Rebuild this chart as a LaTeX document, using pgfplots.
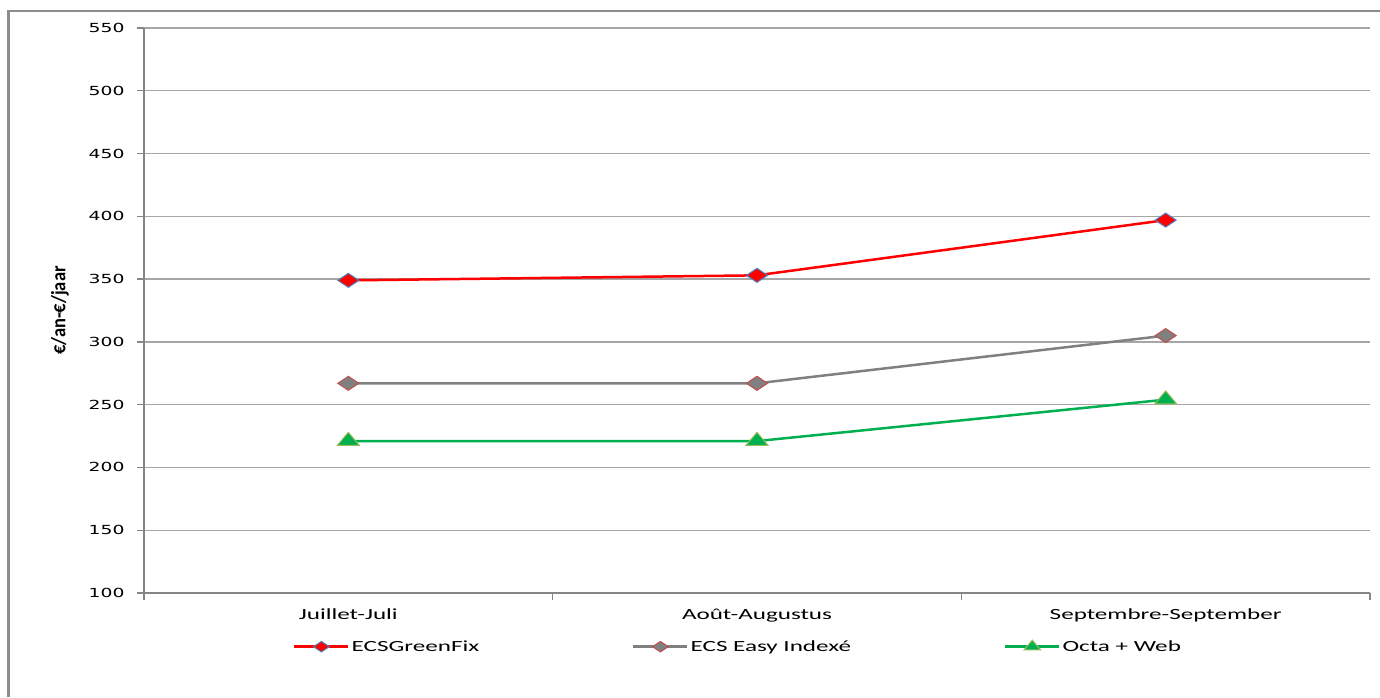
\documentclass[border=0pt]{standalone}
\usepackage{pgfplots}
\pgfplotsset{compat=1.18}
\usepackage{fontspec}
\setmainfont{Carlito}[FakeStretch=1.62]
\newfontfamily\tickfont{DejaVu Sans}[FakeStretch=1.5]
\newfontfamily\ylabfont{Carlito}
\definecolor{axisgrey}{HTML}{868686}
\definecolor{gridgrey}{HTML}{A6A6A6}
\definecolor{framegrey}{HTML}{8C8C8C}
\definecolor{mblue}{HTML}{4F81BD}
\definecolor{mred}{HTML}{C0504D}
\definecolor{lgreen}{HTML}{9BBB59}
\definecolor{sgreen}{HTML}{00B050}
\definecolor{sgrey}{HTML}{808080}
\begin{document}
\begin{tikzpicture}
\path[use as bounding box] (0,0) rectangle (1380pt,697pt);
\draw[color=framegrey, line width=2.5pt] (8.5pt,0pt) -- (8.5pt,686pt) -- (1380pt,686pt);
\begin{axis}[
  at={(144pt,104pt)}, anchor=south west,
  scale only axis, width=1226pt, height=565pt,
  xmin=-0.5, xmax=2.5, ymin=100, ymax=550,
  ytick={100,150,200,250,300,350,400,450,500,550},
  xtick={-0.5,0.5,1.5,2.5},
  x tick label as interval,
  xticklabels={Juillet-Juli,Août-Augustus,Septembre-September},
  axis lines*=left,
  axis line style={draw=axisgrey, line width=1.3pt, -},
  tick align=outside, major tick length=7pt,
  tick style={draw=axisgrey, line width=1.3pt},
  ymajorgrids, grid style={draw=gridgrey, line width=1.3pt},
  /pgf/number format/assume math mode=true,
  yticklabel style={font=\tickfont\fontsize{12.5}{15}\selectfont, xshift=-9pt},
  xticklabel style={font=\fontsize{15.5}{18}\selectfont, yshift=-5pt},
  ylabel={\scalebox{1}[1.1]{\ylabfont\bfseries\fontsize{18.5}{22}\selectfont €/an-€/jaar}},
  ylabel style={at={(axis description cs:-0.0685,0.5)}, anchor=center},
  legend columns=3,
  legend style={at={(0.1215,-0.095)}, anchor=west, draw=none, fill=none,
    inner sep=0pt, font=\fontsize{15.5}{18}\selectfont,
    /tikz/every even column/.append style={column sep=151pt}},
  legend image code/.code={\draw[mark repeat=2,mark phase=2,every mark/.append style={scale=0.75},#1] plot coordinates {(0pt,0pt) (27pt,0pt) (54pt,0pt)};},
]
\addplot[color=red, line width=2.5pt, mark=diamond*, mark size=7pt,
  mark options={solid, fill=red, draw=mblue, line width=1pt, xscale=2}]
  coordinates {(0,349) (1,353) (2,397)};
\addlegendentry{ECSGreenFix}
\addplot[color=sgrey, line width=2.5pt, mark=diamond*, mark size=7pt,
  mark options={solid, fill=sgrey, draw=mred, line width=1pt, xscale=2}]
  coordinates {(0,267) (1,267) (2,305)};
\addlegendentry{ECS Easy Indexé}
\addplot[color=sgreen, line width=2.5pt, mark=triangle*, mark size=8.7pt,
  mark options={solid, fill=sgreen, draw=lgreen, line width=1pt, xscale=1.47}]
  coordinates {(0,221) (1,221) (2,254)};
\addlegendentry{Octa + Web}
\end{axis}
\end{tikzpicture}
\end{document}
